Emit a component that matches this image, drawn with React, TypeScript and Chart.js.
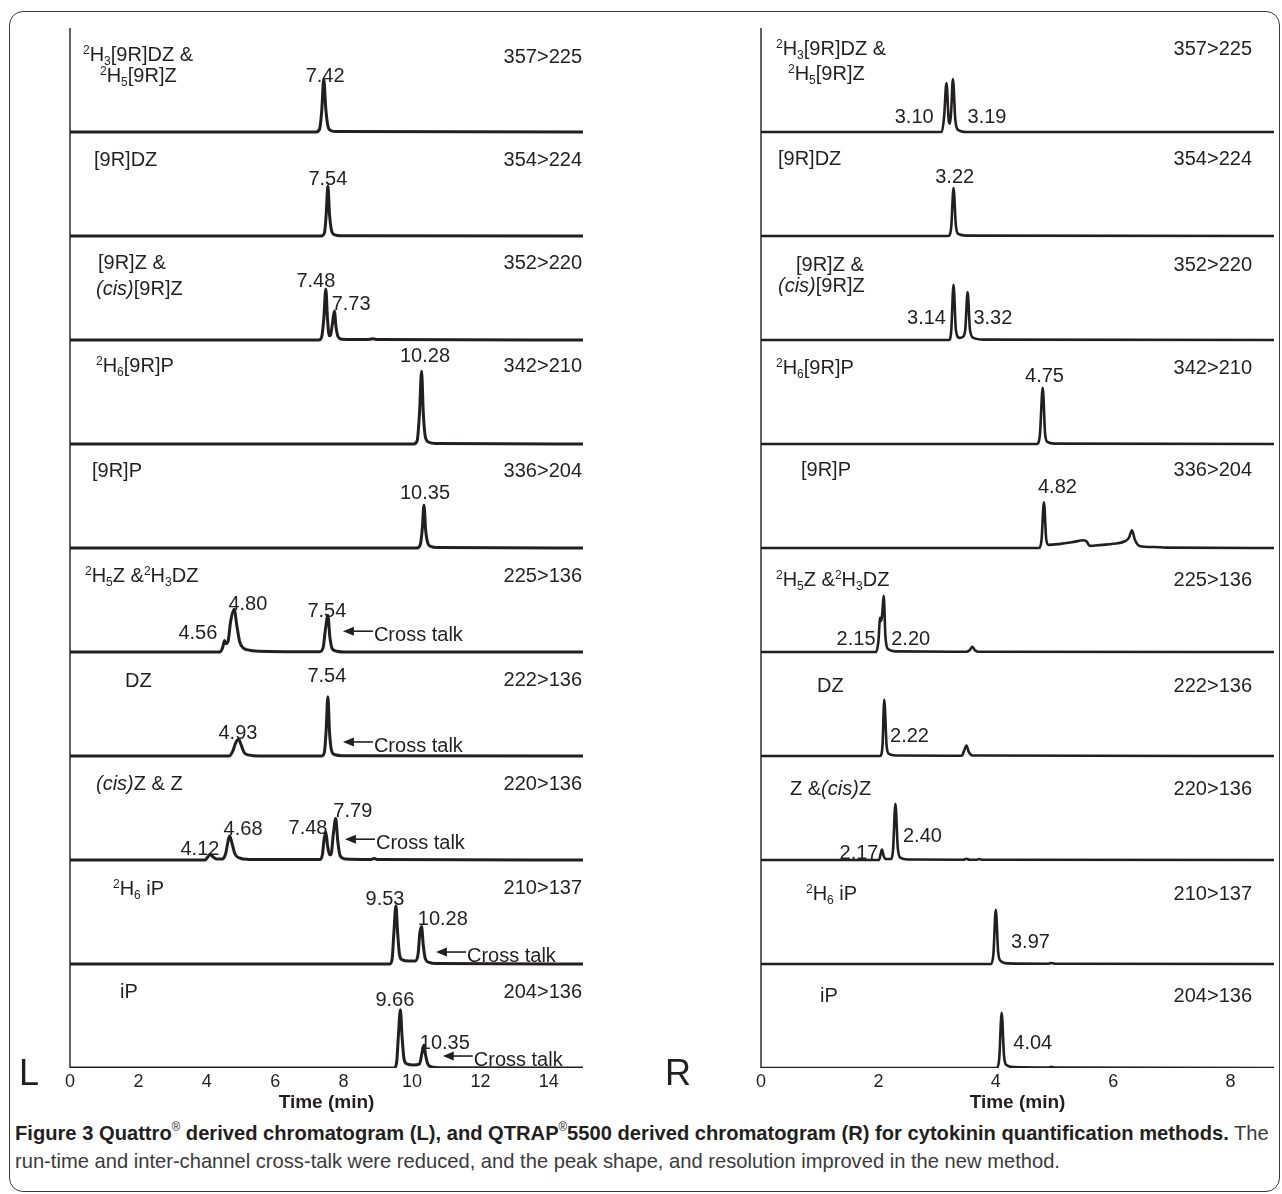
import React, { useEffect, useLayoutEffect, useRef } from "react";
import { Chart, registerables } from "chart.js";

Chart.register(...registerables);

type Pt = [number, number];

const INK = "#231f20";
const FONT = '"Liberation Sans", Arial, Helvetica, sans-serif';

// ---------------- LEFT panel (Quattro), x = minutes, y = fraction of strip height ----------------
const leftTransitions = ["357>225", "354>224", "352>220", "342>210", "336>204", "225>136", "222>136", "220>136", "210>137", "204>136"];
const leftNames: string[][] = [
  ["^2H_3[9R]DZ &", "^2H_5[9R]Z"],
  ["[9R]DZ"],
  ["[9R]Z &", "*(cis)*[9R]Z"],
  ["^2H_6[9R]P"],
  ["[9R]P"],
  ["^2H_5Z &^2H_3DZ"],
  ["DZ"],
  ["*(cis)*Z & Z"],
  ["^2H_6 iP"],
  ["iP"],
];
const leftTicks = [0, 2, 4, 6, 8, 10, 12, 14];

const q1: Pt[] = [[0, 0], [7.2, 0], [7.3, 0.03], [7.36, 0.2], [7.42, 0.51], [7.48, 0.22], [7.54, 0.06], [7.62, 0.015], [7.8, 0.004], [15, 0]];
const q2: Pt[] = [[0, 0], [7.35, 0], [7.44, 0.03], [7.49, 0.2], [7.54, 0.48], [7.59, 0.2], [7.65, 0.05], [7.75, 0.01], [7.9, 0.003], [15, 0]];
const q3: Pt[] = [[0, 0], [7.28, 0], [7.36, 0.03], [7.42, 0.2], [7.48, 0.49], [7.53, 0.2], [7.58, 0.04], [7.62, 0.05], [7.67, 0.15], [7.73, 0.28], [7.78, 0.12], [7.84, 0.03], [7.95, 0.008], [8.7, 0.004], [8.85, 0.012], [9.0, 0.004], [15, 0]];
const q4: Pt[] = [[0, 0], [10.05, 0], [10.15, 0.03], [10.22, 0.3], [10.28, 0.7], [10.33, 0.3], [10.39, 0.07], [10.48, 0.02], [10.7, 0.005], [15, 0]];
const q5: Pt[] = [[0, 0], [10.15, 0], [10.24, 0.03], [10.3, 0.18], [10.35, 0.41], [10.4, 0.17], [10.46, 0.05], [10.55, 0.015], [10.75, 0.004], [15, 0]];
const q6: Pt[] = [[0, 0], [4.38, 0], [4.46, 0.04], [4.52, 0.11], [4.56, 0.08], [4.62, 0.1], [4.7, 0.3], [4.8, 0.41], [4.88, 0.25], [4.96, 0.1], [5.06, 0.04], [5.2, 0.02], [5.5, 0.008], [7.3, 0.003], [7.4, 0.04], [7.47, 0.22], [7.54, 0.35], [7.6, 0.14], [7.67, 0.03], [7.8, 0.008], [8, 0], [15, 0]];
const q7: Pt[] = [[0, 0], [4.65, 0], [4.75, 0.04], [4.85, 0.13], [4.93, 0.16], [5.0, 0.11], [5.1, 0.03], [5.25, 0.008], [5.5, 0], [7.36, 0], [7.44, 0.04], [7.49, 0.25], [7.54, 0.57], [7.59, 0.22], [7.65, 0.05], [7.75, 0.012], [7.95, 0.003], [15, 0]];
const q8: Pt[] = [[0, 0], [3.95, 0], [4.03, 0.03], [4.1, 0.055], [4.18, 0.03], [4.28, 0.01], [4.45, 0.01], [4.55, 0.06], [4.62, 0.18], [4.67, 0.23], [4.73, 0.17], [4.82, 0.06], [4.95, 0.02], [5.2, 0.006], [7.3, 0.004], [7.38, 0.05], [7.43, 0.2], [7.48, 0.27], [7.53, 0.14], [7.59, 0.05], [7.63, 0.05], [7.7, 0.25], [7.77, 0.4], [7.83, 0.18], [7.9, 0.04], [8.05, 0.01], [8.8, 0.006], [8.9, 0.014], [9.0, 0.004], [15, 0]];
const q9: Pt[] = [[0, 0], [9.35, 0], [9.42, 0.05], [9.47, 0.3], [9.53, 0.56], [9.58, 0.3], [9.64, 0.08], [9.72, 0.04], [9.9, 0.03], [10.1, 0.03], [10.18, 0.1], [10.23, 0.3], [10.28, 0.36], [10.33, 0.18], [10.39, 0.05], [10.5, 0.015], [10.7, 0.004], [15, 0]];
const q10: Pt[] = [[0, 0], [9.48, 0], [9.55, 0.05], [9.6, 0.3], [9.66, 0.56], [9.71, 0.3], [9.77, 0.08], [9.85, 0.04], [10.05, 0.03], [10.22, 0.04], [10.29, 0.14], [10.35, 0.22], [10.4, 0.12], [10.46, 0.04], [10.58, 0.01], [10.8, 0.003], [15, 0]];
const leftTraces = [q1, q2, q3, q4, q5, q6, q7, q8, q9, q10];

// [strip, text, x (min), y (strip fraction)] : label centre
const leftPeakLabels: [number, string, number, number][] = [
  [0, "7.42", 7.46, 0.55],
  [1, "7.54", 7.54, 0.56],
  [2, "7.48", 7.19, 0.58], [2, "7.73", 8.22, 0.36],
  [3, "10.28", 10.38, 0.86],
  [4, "10.35", 10.38, 0.54],
  [5, "4.56", 3.74, 0.19], [5, "4.80", 5.2, 0.47], [5, "7.54", 7.51, 0.41],
  [6, "4.93", 4.91, 0.23], [6, "7.54", 7.51, 0.78],
  [7, "4.12", 3.8, 0.115], [7, "4.68", 5.06, 0.31], [7, "7.48", 6.96, 0.32], [7, "7.79", 8.27, 0.48],
  [8, "9.53", 9.21, 0.64], [8, "10.28", 10.9, 0.44],
  [9, "9.66", 9.5, 0.67], [9, "10.35", 10.96, 0.25],
];
// [strip, arrow tip x (min), y (strip fraction)]
const leftCrossTalk: [number, number, number][] = [
  [5, 7.98, 0.2], [6, 7.98, 0.135], [7, 8.04, 0.2], [8, 10.7, 0.115], [9, 10.9, 0.115],
];

// ---------------- RIGHT panel (QTRAP 5500) ----------------
const rightTransitions = ["357>225", "354>224", "352>220", "342>210", "336>204", "225>136", "222>136", "220>136", "210>137", "204>136"];
const rightNames: string[][] = [
  ["^2H_3[9R]DZ &", "^2H_5[9R]Z"],
  ["[9R]DZ"],
  ["[9R]Z &", "*(cis)*[9R]Z"],
  ["^2H_6[9R]P"],
  ["[9R]P"],
  ["^2H_5Z &^2H_3DZ"],
  ["DZ"],
  ["Z &*(cis)*Z"],
  ["^2H_6 iP"],
  ["iP"],
];
const rightTicks = [0, 2, 4, 6, 8];

const t1: Pt[] = [[0, 0], [3.08, 0], [3.12, 0.15], [3.16, 0.47], [3.2, 0.1], [3.22, 0.08], [3.24, 0.2], [3.27, 0.51], [3.31, 0.12], [3.36, 0.02], [3.5, 0], [8.74, 0]];
const t2: Pt[] = [[0, 0], [3.19, 0], [3.24, 0.08], [3.28, 0.46], [3.32, 0.1], [3.36, 0.02], [3.5, 0.004], [8.74, 0]];
const t3: Pt[] = [[0, 0], [3.2, 0], [3.24, 0.08], [3.28, 0.53], [3.32, 0.1], [3.38, 0.02], [3.44, 0.03], [3.48, 0.1], [3.52, 0.46], [3.56, 0.1], [3.62, 0.02], [3.8, 0.004], [8.74, 0]];
const t4: Pt[] = [[0, 0], [4.7, 0], [4.75, 0.08], [4.8, 0.54], [4.84, 0.1], [4.88, 0.02], [5.0, 0.004], [8.74, 0]];
const t5: Pt[] = [[0, 0], [4.74, 0], [4.78, 0.08], [4.82, 0.44], [4.86, 0.08], [4.9, 0.03], [5.1, 0.04], [5.3, 0.055], [5.5, 0.075], [5.55, 0.06], [5.6, 0.02], [5.8, 0.03], [6.0, 0.04], [6.2, 0.065], [6.27, 0.1], [6.32, 0.17], [6.37, 0.08], [6.45, 0.02], [6.7, 0.01], [6.9, 0.004], [8.74, 0]];
const t6: Pt[] = [[0, 0], [1.96, 0], [2.0, 0.1], [2.03, 0.33], [2.05, 0.3], [2.07, 0.4], [2.09, 0.54], [2.12, 0.15], [2.16, 0.03], [2.3, 0.006], [3.5, 0.003], [3.56, 0.02], [3.6, 0.05], [3.64, 0.02], [3.7, 0.003], [8.74, 0]];
const t7: Pt[] = [[0, 0], [2.03, 0], [2.07, 0.1], [2.1, 0.54], [2.14, 0.1], [2.18, 0.02], [2.3, 0.005], [3.42, 0.003], [3.46, 0.05], [3.5, 0.1], [3.54, 0.04], [3.6, 0.005], [8.74, 0]];
const t8: Pt[] = [[0, 0], [2.01, 0], [2.04, 0.06], [2.06, 0.1], [2.09, 0.04], [2.12, 0.01], [2.22, 0.01], [2.25, 0.1], [2.29, 0.54], [2.33, 0.12], [2.38, 0.02], [2.5, 0.005], [3.45, 0.003], [3.5, 0.012], [3.55, 0.003], [3.68, 0.003], [3.72, 0.01], [3.76, 0.003], [8.74, 0]];
const t9: Pt[] = [[0, 0], [3.92, 0], [3.96, 0.1], [4.0, 0.52], [4.04, 0.12], [4.08, 0.03], [4.2, 0.006], [4.9, 0.003], [4.95, 0.01], [5.0, 0.003], [8.74, 0]];
const t10: Pt[] = [[0, 0], [4.02, 0], [4.06, 0.1], [4.1, 0.53], [4.14, 0.12], [4.18, 0.03], [4.3, 0.008], [4.9, 0.004], [4.95, 0.012], [5.0, 0.004], [8.74, 0]];
const rightTraces = [t1, t2, t3, t4, t5, t6, t7, t8, t9, t10];

const rightPeakLabels: [number, string, number, number][] = [
  [0, "3.10", 2.61, 0.16], [0, "3.19", 3.85, 0.16],
  [1, "3.22", 3.3, 0.58],
  [2, "3.14", 2.82, 0.22], [2, "3.32", 3.95, 0.22],
  [3, "4.75", 4.83, 0.67],
  [4, "4.82", 5.05, 0.6],
  [5, "2.15", 1.62, 0.14], [5, "2.20", 2.55, 0.14],
  [6, "2.22", 2.53, 0.2],
  [7, "2.17", 1.67, 0.08], [7, "2.40", 2.75, 0.24],
  [8, "3.97", 4.59, 0.22],
  [9, "4.04", 4.63, 0.25],
];
const rightCrossTalk: [number, number, number][] = [];

// ---------------- layout (pixels) ----------------
const N = 10;
const CANVAS_H = 1114;

type PanelCfg = {
  key: string;
  canvasLeft: number;
  canvasWidth: number;
  pad: { left: number; right: number; top: number };
  xMax: number;
  ticks: number[];
  traces: Pt[][];
  names: string[][];
  nameLayout: [number, number][][];
  transitions: string[];
  transDy: number[];
  transRightOffset: number;
  peakLabels: [number, string, number, number][];
  crossTalk: [number, number, number][];
  letter: string;
  letterX: number;
  lineWidth: number;
};

const leftCfg: PanelCfg = {
  key: "L",
  canvasLeft: 0,
  canvasWidth: 640,
  pad: { left: 70, right: 57, top: 28 },
  xMax: 15,
  ticks: leftTicks,
  traces: leftTraces,
  names: leftNames,
  nameLayout: [
    [[13, 26], [30, 47]],
    [[24, 27]],
    [[28, 26], [26, 52]],
    [[26, 25]],
    [[22, 26]],
    [[15, 27]],
    [[55, 28]],
    [[26, 27]],
    [[43, 28]],
    [[50, 27]],
  ],
  transitions: leftTransitions,
  transDy: [28, 27, 26, 25, 26, 27, 27, 27, 27, 27],
  transRightOffset: -1,
  peakLabels: leftPeakLabels,
  crossTalk: leftCrossTalk,
  letter: "L",
  letterX: 19,
  lineWidth: 3,
};

const rightCfg: PanelCfg = {
  key: "R",
  canvasLeft: 640,
  canvasWidth: 642,
  pad: { left: 121, right: 8, top: 28 },
  xMax: 8.74,
  ticks: rightTicks,
  traces: rightTraces,
  names: rightNames,
  nameLayout: [
    [[15, 20], [27, 45]],
    [[17, 26]],
    [[35, 28], [17, 49]],
    [[15, 27]],
    [[40, 25]],
    [[15, 31]],
    [[56, 33]],
    [[29, 32]],
    [[45, 33]],
    [[59, 31]],
  ],
  transitions: rightTransitions,
  transDy: [20, 26, 28, 27, 25, 31, 33, 32, 33, 31],
  transRightOffset: -22,
  peakLabels: rightPeakLabels,
  crossTalk: rightCrossTalk,
  letter: "R",
  letterX: 25,
  lineWidth: 2.6,
};

const LABEL_SIZE = 20;

function drawRich(ctx: CanvasRenderingContext2D, markup: string, x: number, yCenter: number, size: number, align: "left" | "right" | "center") {
  type Seg = { t: string; mode: "n" | "sup" | "sub"; italic: boolean };
  const segs: Seg[] = [];
  let italic = false;
  let i = 0;
  while (i < markup.length) {
    const c = markup[i];
    if (c === "*") { italic = !italic; i++; continue; }
    if (c === "^" || c === "_") {
      segs.push({ t: markup[i + 1], mode: c === "^" ? "sup" : "sub", italic });
      i += 2;
      continue;
    }
    const last = segs[segs.length - 1];
    if (last && last.mode === "n" && last.italic === italic) last.t += c;
    else segs.push({ t: c, mode: "n", italic });
    i++;
  }
  const small = Math.round(size * 0.62);
  const fontOf = (s: Seg) => `${s.italic ? "italic " : ""}${s.mode === "n" ? size : small}px ${FONT}`;
  const widths = segs.map((s) => { ctx.font = fontOf(s); return ctx.measureText(s.t).width; });
  const total = widths.reduce((a, b) => a + b, 0);
  let cx = align === "left" ? x : align === "right" ? x - total : x - total / 2;
  const base = yCenter + size * 0.36;
  ctx.textAlign = "left";
  ctx.textBaseline = "alphabetic";
  segs.forEach((s, k) => {
    ctx.font = fontOf(s);
    const yy = s.mode === "sup" ? base - size * 0.36 : s.mode === "sub" ? base + size * 0.2 : base;
    ctx.fillText(s.t, cx, yy);
    cx += widths[k];
  });
}

function makePlugin(cfg: PanelCfg) {
  return {
    id: "annot" + cfg.key,
    beforeDatasetsDraw(chart: any) {
      const ctx: CanvasRenderingContext2D = chart.ctx;
      const { left, top, bottom } = chart.chartArea;
      ctx.save();
      ctx.strokeStyle = INK;
      ctx.lineWidth = 1.4;
      ctx.beginPath();
      ctx.moveTo(left, top);
      ctx.lineTo(left, bottom);
      ctx.stroke();
      ctx.restore();
    },
    afterDatasetsDraw(chart: any) {
      const ctx: CanvasRenderingContext2D = chart.ctx;
      const { left, right, top, bottom } = chart.chartArea;
      const xs = chart.scales.x;
      const ys = chart.scales.y;
      const stripH = (bottom - top) / N;
      ctx.save();
      ctx.fillStyle = INK;
      ctx.strokeStyle = INK;
      for (let s = 0; s < N; s++) {
        const T = top + s * stripH;
        cfg.names[s].forEach((line, j) => {
          const [dx, dy] = cfg.nameLayout[s][j];
          drawRich(ctx, line, left + dx, T + dy, LABEL_SIZE, "left");
        });
        drawRich(ctx, cfg.transitions[s], right + cfg.transRightOffset, T + cfg.transDy[s], LABEL_SIZE, "right");
      }
      cfg.peakLabels.forEach(([s, text, x, y]) => {
        const px = xs.getPixelForValue(x);
        const py = ys.getPixelForValue(N - 1 - s + y);
        drawRich(ctx, text, px, py, LABEL_SIZE, "center");
      });
      cfg.crossTalk.forEach(([s, x, y]) => {
        const px = xs.getPixelForValue(x);
        const py = ys.getPixelForValue(N - 1 - s + y);
        ctx.lineWidth = 1.6;
        ctx.beginPath();
        ctx.moveTo(px + 8, py);
        ctx.lineTo(px + 30, py);
        ctx.stroke();
        ctx.beginPath();
        ctx.moveTo(px, py);
        ctx.lineTo(px + 11, py - 4.5);
        ctx.lineTo(px + 11, py + 4.5);
        ctx.closePath();
        ctx.fill();
        drawRich(ctx, "Cross talk", px + 31, py + 3, LABEL_SIZE, "left");
      });
      ctx.font = `36px ${FONT}`;
      ctx.textAlign = "left";
      ctx.textBaseline = "alphabetic";
      ctx.fillText(cfg.letter, cfg.letterX, bottom + 17);
      ctx.restore();
    },
  };
}

function Panel({ cfg }: { cfg: PanelCfg }) {
  const ref = useRef<HTMLCanvasElement | null>(null);
  useEffect(() => {
    if (!ref.current) return;
    const datasets = cfg.traces.map((tr, i) => ({
      data: tr.map(([x, y]) => ({ x, y: N - 1 - i + y })),
      borderColor: INK,
      borderWidth: cfg.lineWidth,
      pointRadius: 0,
      cubicInterpolationMode: "monotone" as const,
      fill: false,
      borderJoinStyle: "round" as const,
      borderCapStyle: "round" as const,
    }));
    const chart = new Chart(ref.current, {
      type: "line",
      data: { datasets },
      options: {
        animation: false,
        responsive: false,
        maintainAspectRatio: false,
        devicePixelRatio: 1,
        layout: { padding: { left: cfg.pad.left, right: cfg.pad.right, top: cfg.pad.top, bottom: 0 } },
        plugins: { legend: { display: false }, tooltip: { enabled: false } },
        scales: {
          x: {
            type: "linear",
            min: 0,
            max: cfg.xMax,
            afterBuildTicks: (scale: any) => {
              scale.ticks = cfg.ticks.map((v) => ({ value: v }));
            },
            afterFit: (scale: any) => {
              scale.height = 46;
            },
            ticks: { color: INK, font: { family: FONT, size: 18 }, padding: 3, maxRotation: 0, autoSkip: false },
            grid: { display: false, drawTicks: false },
            border: { display: false },
            title: {
              display: true,
              text: "Time (min)",
              color: INK,
              font: { family: FONT, size: 19, weight: "bold" },
              padding: { top: 0, bottom: 0 },
            },
          },
          y: { type: "linear", display: false, min: 0, max: N },
        },
      },
      plugins: [makePlugin(cfg)],
    } as any);
    return () => chart.destroy();
  }, [cfg]);
  return (
    <canvas
      ref={ref}
      width={cfg.canvasWidth}
      height={CANVAS_H}
      style={{ position: "absolute", left: cfg.canvasLeft, top: 0, width: cfg.canvasWidth, height: CANVAS_H }}
    />
  );
}

function Caption() {
  const l1 = useRef<HTMLDivElement | null>(null);
  const l2 = useRef<HTMLDivElement | null>(null);
  useLayoutEffect(() => {
    if (!l1.current || !l2.current) return;
    const w = l1.current.scrollWidth;
    const k = 1254 / w;
    l1.current.style.transform = `scaleX(${k})`;
    l2.current.style.transform = `scaleX(${k})`;
  }, []);
  const base: React.CSSProperties = {
    position: "absolute",
    left: 15,
    whiteSpace: "nowrap",
    fontFamily: FONT,
    fontSize: 21,
    lineHeight: "24px",
    height: 24,
    color: "#3a3a3a",
    transformOrigin: "0 0",
    display: "inline-block",
  };
  const sup: React.CSSProperties = { fontSize: 12, position: "relative", top: -9, fontWeight: 400 };
  return (
    <>
      <div ref={l1} style={{ ...base, top: 1121 }}>
        <b style={{ color: INK }}>
          Figure 3 Quattro<span style={sup}>®</span> derived chromatogram (L), and QTRAP<span style={sup}>®</span>5500 derived chromatogram (R) for cytokinin quantification methods.
        </b>{" "}
        The
      </div>
      <div ref={l2} style={{ ...base, top: 1149 }}>
        run-time and inter-channel cross-talk were reduced, and the peak shape, and resolution improved in the new method.
      </div>
    </>
  );
}

export default function App() {
  return (
    <div style={{ position: "absolute", left: 0, top: 0, width: 1282, height: 1194, background: "#fff", overflow: "hidden" }}>
      <div
        style={{
          position: "absolute",
          left: 9,
          top: 11,
          width: 1271,
          height: 1181,
          boxSizing: "border-box",
          border: "1.5px solid #3a3a3a",
          borderRadius: 14,
        }}
      />
      <Panel cfg={leftCfg} />
      <Panel cfg={rightCfg} />
      <Caption />
    </div>
  );
}
